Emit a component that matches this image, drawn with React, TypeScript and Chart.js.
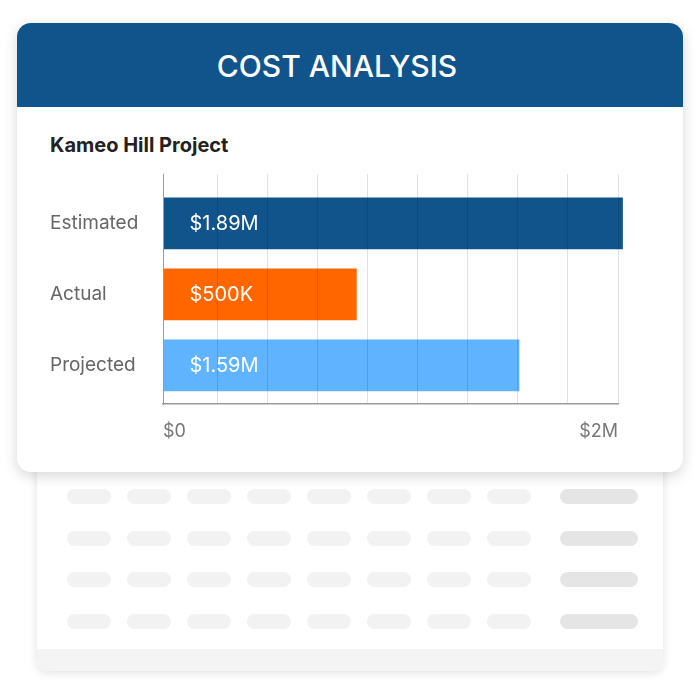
import React, { useEffect, useRef } from "react";
import { Chart, registerables } from "chart.js";

Chart.register(...registerables);

const categories = ["Estimated", "Actual", "Projected"];
// bar lengths in $M as drawn against the axis
const barValues = [2.02, 0.85, 1.565];
const valueLabels = ["$1.89M", "$500K", "$1.59M"];
const barColors = ["#11548B", "#FF6600", "#60B4FF"];
const xMin = 0;
const xMax = 2;
const xTickLabels = ["$0", "$2M"];
const gridStep = 0.22;

const FONT = "Inter, 'Noto Sans', sans-serif";

function CostChart() {
  const ref = useRef<HTMLCanvasElement | null>(null);
  useEffect(() => {
    if (!ref.current) return;
    const valuePlugin = {
      id: "valueLabels",
      afterDraw(chart: any) {
        const ctx = chart.ctx;
        const meta = chart.getDatasetMeta(0);
        ctx.save();
        ctx.font = `400 20px ${FONT}`;
        ctx.fillStyle = "#ffffff";
        ctx.textAlign = "left";
        ctx.textBaseline = "middle";
        meta.data.forEach((bar: any, i: number) => {
          ctx.fillText(valueLabels[i], bar.base + 26, bar.y + 1);
        });
        ctx.restore();
      },
    };
    const chart = new Chart(ref.current, {
      type: "bar",
      data: {
        datasets: [
          {
            data: barValues.map((v, i) => ({ x: v, y: i })),
            backgroundColor: barColors,
            borderWidth: 0,
            barThickness: 51,
            clip: false as any,
          },
        ],
      },
      options: {
        indexAxis: "y",
        responsive: false,
        animation: false,
        devicePixelRatio: 1,
        layout: { padding: { left: 0, top: 12, right: 32, bottom: 0 } },
        plugins: {
          legend: { display: false },
          tooltip: { enabled: false },
        },
        scales: {
          x: {
            type: "linear",
            min: xMin,
            max: xMax,
            offset: false,
            afterBuildTicks(scale: any) {
              const ticks = [{ value: xMin }];
              for (let k = 8; k >= 0; k--) ticks.push({ value: +(xMax - k * gridStep).toFixed(4) });
              scale.ticks = ticks;
            },
            afterFit(scale: any) {
              scale.height = 46;
            },
            grid: { color: "rgba(0,0,0,0.12)", drawTicks: false, lineWidth: 1, offset: false, z: 1 },
            border: { display: true, color: "#9a9a9a", width: 1.5, z: 2 },
            ticks: {
              autoSkip: false,
              maxRotation: 0,
              align: "inner" as any,
              padding: 17,
              color: "#777777",
              font: { family: FONT, size: 18 },
              callback: (v: any) => (v === xMin ? xTickLabels[0] : v === xMax ? xTickLabels[1] : ""),
            },
          },
          y: {
            type: "linear",
            reverse: true,
            offset: false,
            min: -0.69,
            max: 2.545,
            afterBuildTicks(scale: any) {
              scale.ticks = categories.map((_, i) => ({ value: i }));
            },
            afterFit(scale: any) {
              scale.width = 113;
            },
            grid: { display: false, offset: false },
            border: { display: true, color: "#9a9a9a", width: 1, z: 2 },
            ticks: {
              autoSkip: false,
              crossAlign: "far",
              color: "#666666",
              font: { family: FONT, size: 19 },
              callback: (v: any) => categories[v] ?? "",
            },
          },
        },
      },
      plugins: [valuePlugin],
    } as any);
    return () => chart.destroy();
  }, []);
  return (
    <canvas
      ref={ref}
      width={600}
      height={290}
      style={{ position: "absolute", left: 33, top: 137, width: 600, height: 290 }}
    />
  );
}

export default function App() {
  const rows = [0, 1, 2, 3];
  const cols = [0, 1, 2, 3, 4, 5, 6, 7];
  return (
    <div
      style={{
        position: "absolute",
        left: 0,
        top: 0,
        width: 699,
        height: 694,
        background: "#ffffff",
        fontFamily: FONT,
        overflow: "hidden",
      }}
    >
      {/* background table card */}
      <div
        style={{
          position: "absolute",
          left: 37,
          top: 430,
          width: 626,
          height: 241,
          background: "#ffffff",
          borderRadius: 10,
          boxShadow: "0 2px 10px rgba(0,0,0,0.12)",
          overflow: "hidden",
        }}
      >
        {rows.map((r) =>
          cols.map((c) => (
            <div
              key={`${r}-${c}`}
              style={{
                position: "absolute",
                left: 30 + c * 60,
                top: 59 + r * 41.7,
                width: 44,
                height: 15,
                borderRadius: 8,
                background: "#f2f2f2",
              }}
            />
          ))
        )}
        {rows.map((r) => (
          <div
            key={`w-${r}`}
            style={{
              position: "absolute",
              left: 523,
              top: 59 + r * 41.7,
              width: 78,
              height: 15,
              borderRadius: 8,
              background: "#e5e5e5",
            }}
          />
        ))}
        <div
          style={{
            position: "absolute",
            left: 0,
            top: 219,
            width: 626,
            height: 22,
            background: "#f4f4f4",
          }}
        />
      </div>

      {/* main card */}
      <div
        style={{
          position: "absolute",
          left: 17,
          top: 23,
          width: 666,
          height: 449,
          background: "#ffffff",
          borderRadius: 14,
          boxShadow: "0 4px 14px rgba(0,0,0,0.16)",
          overflow: "hidden",
        }}
      >
        <div
          style={{
            position: "absolute",
            left: 0,
            top: 0,
            width: 666,
            height: 84,
            background: "#11548B",
          }}
        />
        <div
          style={{
            position: "absolute",
            left: 120,
            top: 24,
            width: 400,
            textAlign: "center",
            color: "#ffffff",
            fontSize: 30,
            fontWeight: 500,
            lineHeight: "38px",
          }}
        >
          COST ANALYSIS
        </div>
        <div
          style={{
            position: "absolute",
            left: 33,
            top: 110,
            color: "#222222",
            fontSize: 20,
            fontWeight: 700,
            lineHeight: "24px",
            whiteSpace: "nowrap",
          }}
        >
          Kameo Hill Project
        </div>
        <CostChart />
      </div>
    </div>
  );
}
